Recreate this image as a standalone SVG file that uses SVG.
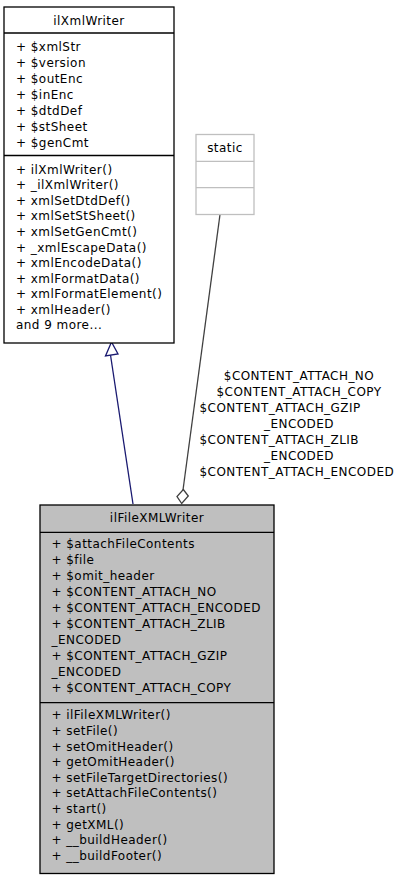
<svg xmlns="http://www.w3.org/2000/svg" width="401" height="880" viewBox="0 0 401 880">
<style>
text{font-family:"DejaVu Sans",sans-serif;font-size:12px;letter-spacing:0.45px;fill:#000}
.c{text-anchor:middle}
.box{fill:#fff;stroke:#000;stroke-width:1.3}
.gbox{fill:#bfbfbf;stroke:#000;stroke-width:1.3}
.sbox{fill:#fff;stroke:#bfbfbf;stroke-width:1.3}
</style>
<rect width="401" height="880" fill="#fff"/>
<g id="connectors">
<path d="M133,504 L110.5,355" stroke="#191970" stroke-width="1.3" fill="none"/>
<polygon points="111.5,342 105.5,356 118,354" fill="#fff" stroke="#191970" stroke-width="1.3"/>
<path d="M220,214.5 L183,490" stroke="#404040" stroke-width="1.3" fill="none"/>
<polygon points="183.3,489.5 188.3,496 181.7,503.5 177,496.5" fill="#fff" stroke="#404040" stroke-width="1.3"/>
<text class="c" x="299" y="379.5">$CONTENT_ATTACH_NO</text>
<text class="c" x="299" y="395.5">$CONTENT_ATTACH_COPY</text>
<text x="199.5" y="411.5">$CONTENT_ATTACH_GZIP</text>
<text class="c" x="299" y="427.5">_ENCODED</text>
<text x="199.5" y="443.5">$CONTENT_ATTACH_ZLIB</text>
<text class="c" x="299" y="459.5">_ENCODED</text>
<text x="199.5" y="475.5">$CONTENT_ATTACH_ENCODED</text>
</g>
<g id="ilXmlWriter">
<rect class="box" x="4" y="7" width="170" height="336"/>
<line x1="4" y1="33" x2="174" y2="33" stroke="#000" stroke-width="1.3"/>
<line x1="4" y1="155.5" x2="174" y2="155.5" stroke="#000" stroke-width="1.3"/>
<text class="c" x="89" y="25">ilXmlWriter</text>
<text x="16" y="50.7">+ $xmlStr</text>
<text x="16" y="66.7">+ $version</text>
<text x="16" y="82.7">+ $outEnc</text>
<text x="16" y="98.7">+ $inEnc</text>
<text x="16" y="114.7">+ $dtdDef</text>
<text x="16" y="130.7">+ $stSheet</text>
<text x="16" y="146.7">+ $genCmt</text>
<text x="16" y="173.8">+ ilXmlWriter()</text>
<text x="16" y="189.3">+ _ilXmlWriter()</text>
<text x="16" y="204.9">+ xmlSetDtdDef()</text>
<text x="16" y="220.4">+ xmlSetStSheet()</text>
<text x="16" y="236">+ xmlSetGenCmt()</text>
<text x="16" y="251.6">+ _xmlEscapeData()</text>
<text x="16" y="267.1">+ xmlEncodeData()</text>
<text x="16" y="282.7">+ xmlFormatData()</text>
<text x="16" y="298.2">+ xmlFormatElement()</text>
<text x="16" y="313.8">+ xmlHeader()</text>
<text x="16" y="329.3">and 9 more...</text>
</g>
<g id="static">
<rect class="sbox" x="196" y="134.5" width="58" height="80"/>
<line x1="196" y1="161.3" x2="254" y2="161.3" stroke="#bfbfbf" stroke-width="1.3"/>
<line x1="196" y1="187.7" x2="254" y2="187.7" stroke="#bfbfbf" stroke-width="1.3"/>
<text class="c" x="225" y="152">static</text>
</g>
<g id="ilFileXMLWriter">
<rect class="gbox" x="40" y="505" width="234" height="368.5"/>
<line x1="40" y1="532.3" x2="274" y2="532.3" stroke="#000" stroke-width="1.3"/>
<line x1="40" y1="702.7" x2="274" y2="702.7" stroke="#000" stroke-width="1.3"/>
<text class="c" x="157" y="522">ilFileXMLWriter</text>
<text x="51.5" y="548.3">+ $attachFileContents</text>
<text x="51.5" y="564.3">+ $file</text>
<text x="51.5" y="580.3">+ $omit_header</text>
<text x="51.5" y="596.3">+ $CONTENT_ATTACH_NO</text>
<text x="51.5" y="612.3">+ $CONTENT_ATTACH_ENCODED</text>
<text x="51.5" y="628.3">+ $CONTENT_ATTACH_ZLIB</text>
<text x="51.5" y="644.3">_ENCODED</text>
<text x="51.5" y="660.3">+ $CONTENT_ATTACH_GZIP</text>
<text x="51.5" y="676.3">_ENCODED</text>
<text x="51.5" y="692.3">+ $CONTENT_ATTACH_COPY</text>
<text x="51.5" y="719.3">+ ilFileXMLWriter()</text>
<text x="51.5" y="735">+ setFile()</text>
<text x="51.5" y="750.6">+ setOmitHeader()</text>
<text x="51.5" y="766.2">+ getOmitHeader()</text>
<text x="51.5" y="781.8">+ setFileTargetDirectories()</text>
<text x="51.5" y="797.4">+ setAttachFileContents()</text>
<text x="51.5" y="813">+ start()</text>
<text x="51.5" y="828.6">+ getXML()</text>
<text x="51.5" y="844.2">+ __buildHeader()</text>
<text x="51.5" y="859.8">+ __buildFooter()</text>
</g>
</svg>
